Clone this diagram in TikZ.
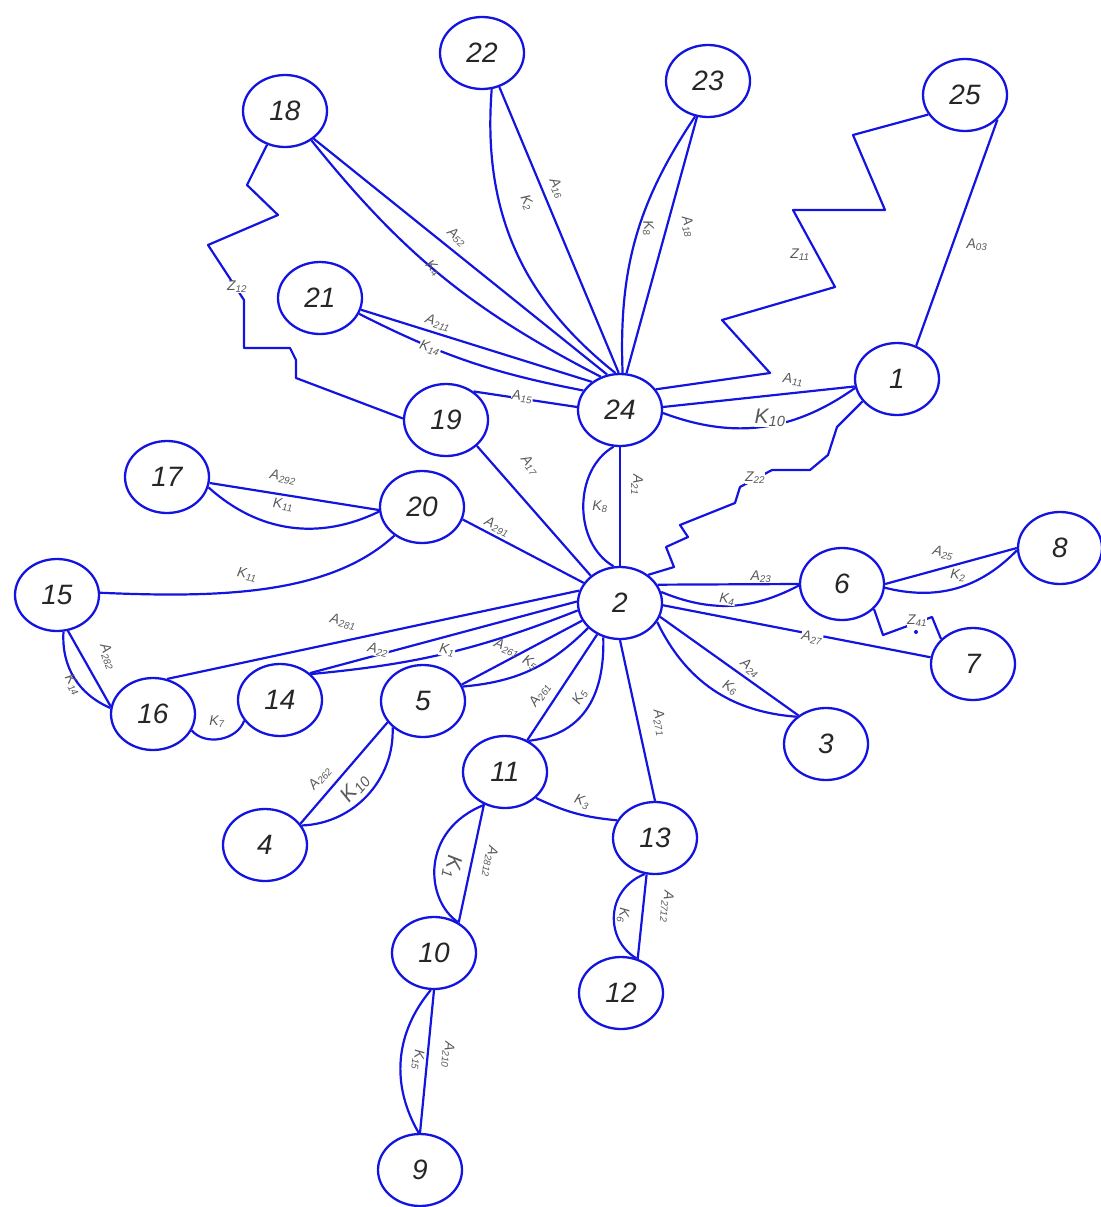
\documentclass[tikz,border=0pt]{standalone}
\usepackage{fontspec}
\setmainfont{Liberation Sans}
\usetikzlibrary{shapes.geometric}
\definecolor{bl}{RGB}{20,20,225}
\newcommand\mylab[2]{#1\textsubscript{#2}}
\begin{document}
\begin{tikzpicture}[x=1pt,y=-1pt,
  vert/.style={ellipse, draw=bl, fill=white, line width=2.3pt, minimum width=84pt, minimum height=72pt, inner sep=0pt, font=\fontsize{28}{28}\selectfont\itshape, text=black!85},
  edge/.style={draw=bl, line width=2.2pt, line join=round},
  lab/.style={font=\fontsize{14}{14}\selectfont\itshape, text=black!65, inner sep=0.5pt},
  onl/.style={lab, fill=white},
  bigk/.style={font=\fontsize{21}{21}\selectfont\itshape}]
\useasboundingbox (0,0) rectangle (1100,1207);
% vertices
\node[vert] (n1) at (897,379) {1};
\node[vert] (n2) at (620,603) {2};
\node[vert] (n3) at (826,744) {3};
\node[vert] (n4) at (265,845) {4};
\node[vert] (n5) at (423,701) {5};
\node[vert] (n6) at (842,584) {6};
\node[vert] (n7) at (973,664) {7};
\node[vert] (n8) at (1060,548) {8};
\node[vert] (n9) at (420,1170) {9};
\node[vert] (n10) at (434,953) {10};
\node[vert] (n11) at (505,772) {11};
\node[vert] (n12) at (621,993) {12};
\node[vert] (n13) at (655,838) {13};
\node[vert] (n14) at (280,700) {14};
\node[vert] (n15) at (57,595) {15};
\node[vert] (n16) at (153,714) {16};
\node[vert] (n17) at (167,477) {17};
\node[vert] (n18) at (285,111) {18};
\node[vert] (n19) at (446,420) {19};
\node[vert] (n20) at (422,507) {20};
\node[vert] (n21) at (320,298) {21};
\node[vert] (n22) at (482,53) {22};
\node[vert] (n23) at (708,81) {23};
\node[vert] (n24) at (620,410) {24};
\node[vert] (n25) at (965,95) {25};
% fan into 24
\draw[edge] (n22.-63) -- (n24.92);
\draw[edge] (n22.-75) to[bend right=28] (n24.97);
\draw[edge] (n23.-107) -- (n24.80);
\draw[edge] (n23.-110) to[bend right=18] (n24.86);
\draw[edge] (n18.-44) -- (n24.110);
\draw[edge] (n18.-48) to[bend right=12] (n24.120);
\draw[edge] (n21.-16) -- (n24.135);
\draw[edge] (n21.-22) to[bend right=8] (n24.152);
\draw[edge] (n19.46) -- (n24.176);
% 24 - 1 - 25
\draw[edge] (n24.4) -- (n1.190);
\draw[edge] (n24.-4) to[bend right=28] (n1.192);
\draw[edge] (n25.-37) -- (n1.60);
\draw[edge] (n24.30) -- (770,373) -- (722,320) -- (835,287) -- (793,210) -- (885,210) -- (853,135) -- (n25.208);
% 24 - 2
\draw[edge] (n24.-90) -- (n2.90);
\draw[edge] (n24.-100) to[bend right=60] (n2.100);
% zigzag 1 - 2
\draw[edge] (n1.213) -- (837,427) -- (828,455) -- (810,470) -- (772,470) -- (740,487) -- (735,503) -- (680,525) -- (688,537) -- (666,547) -- (674,567) -- (n2.45);
% zigzag 18 - 19
\draw[edge] (n18.242) -- (247,185) -- (278,215) -- (208,245) -- (244,300) -- (244,348) -- (290,348) -- (296,360) -- (296,378) -- (n19.178);
% left side
\draw[edge] (n19.-40) -- (n2.137);
\draw[edge] (n20.-17) -- (n2.151);
\draw[edge] (n17.-8) -- (n20.184);
\draw[edge] (n17.-14) to[bend right=34] (n20.186);
\draw[edge] (n15.3) .. controls (220,598) and (330,595) .. (n20.-134);
\draw[edge] (n16.68) -- (n2.163);
\draw[edge] (n15.-73) -- (n16.170);
\draw[edge] (n15.-80) to[bend right=35] (n16.172);
\draw[edge] (n16.-23) to[bend right=60] (n14.210);
\draw[edge] (n14.42) -- (n2.178);
\draw[edge] (n14.40) to[bend right=8] (n2.190);
\draw[edge] (n5.23) -- (n2.205);
\draw[edge] (n5.20) to[bend right=20] (n2.218);
\draw[edge] (n5.211) -- (n4.31);
\draw[edge] (n5.221) to[bend left=45] (n4.28);
% lower
\draw[edge] (n2.234) -- (n11.55);
\draw[edge] (n2.244) .. controls (605,700) and (580,735) .. (n11.53);
\draw[edge] (n2.-90) -- (n13.90);
\draw[edge] (n11.-40) to[bend right=10] (n13.155);
\draw[edge] (n11.237) -- (n10.51);
\draw[edge] (n11.238) .. controls (420,830) and (425,900) .. (n10.52);
\draw[edge] (n13.-103) -- (n12.64);
\draw[edge] (n13.-106) .. controls (605,890) and (605,940) .. (n12.66);
\draw[edge] (n10.-90) -- (n9.90);
\draw[edge] (n10.-95) to[bend right=35] (n9.92);
% right
\draw[edge] (n2.-19) -- (n3.134);
\draw[edge] (n2.-27) to[bend right=30] (n3.137);
\draw[edge] (n2.-3) -- (n7.171);
\draw[edge] (n2.26) -- (n6.180);
\draw[edge] (n2.15) to[bend right=25] (n6.182);
\draw[edge] (n6.0) -- (n8.180);
\draw[edge] (n6.-5) to[bend right=30] (n8.183);
\draw[edge] (n6.-38) -- (883,635) -- (932,617) -- (n7.142);
\fill[bl] (916,632) circle (2pt);
% labels
\node[lab,rotate=-66] (lA16) at (557,188) {\mylab{A}{16}};
\node[lab,rotate=-66] (lK22) at (527,203) {\mylab{K}{2}};
\node[lab,rotate=-75] (lA18) at (688,227) {\mylab{A}{18}};
\node[lab,rotate=-80] (lK23) at (648,228) {\mylab{K}{8}};
\node[lab,rotate=-40] (lA52) at (457,237) {\mylab{A}{52}};
\node[lab,rotate=-45] (lK18) at (433,268) {\mylab{K}{4}};
\node[lab,rotate=-18] (lA211) at (438,323) {\mylab{A}{211}};
\node[onl,rotate=-18] (lK21) at (430,348) {\mylab{K}{14}};
\node[onl,rotate=-5] (lA15) at (522,397) {\mylab{A}{15}};
\node[onl] (lZ12) at (237,287) {\mylab{Z}{12}};
\node[lab] (lZ11) at (800,255) {\mylab{Z}{11}};
\node[lab] (lA03) at (977,245) {\mylab{A}{03}};
\node[lab,rotate=-5] (lA11) at (793,380) {\mylab{A}{11}};
\node[onl,bigk] (lK10a) at (770,418) {\mylab{K}{10}};
\node[onl] (lZ22) at (755,478) {\mylab{Z}{22}};
\node[lab,rotate=-90] (lA21) at (637,485) {\mylab{A}{21}};
\node[lab] (lK8) at (600,507) {\mylab{K}{8}};
\node[lab,rotate=-52] (lA17) at (530,465) {\mylab{A}{17}};
\node[lab,rotate=-25] (lA291) at (497,527) {\mylab{A}{291}};
\node[lab,rotate=-10] (lA292) at (283,477) {\mylab{A}{292}};
\node[lab,rotate=-5] (lK17) at (283,505) {\mylab{K}{11}};
\node[lab,rotate=-10] (lK15a) at (247,575) {\mylab{K}{11}};
\node[lab,rotate=-12] (lA281) at (343,622) {\mylab{A}{281}};
\node[onl,rotate=-12] (lA22) at (378,650) {\mylab{A}{22}};
\node[onl,rotate=-10] (lK1) at (447,650) {\mylab{K}{1}};
\node[lab,rotate=-22] (lA261) at (507,648) {\mylab{A}{261}};
\node[lab,rotate=-30] (lK5a) at (530,663) {\mylab{K}{5}};
\node[lab,rotate=57] (lA261b) at (540,695) {\mylab{A}{261}};
\node[lab,rotate=60] (lK5b) at (580,697) {\mylab{K}{5}};
\node[lab,rotate=-78] (lA271) at (660,723) {\mylab{A}{271}};
\node[onl,rotate=-38] (lA24) at (750,668) {\mylab{A}{24}};
\node[onl,rotate=-30] (lK6a) at (730,688) {\mylab{K}{6}};
\node[onl,rotate=-10] (lA27) at (812,638) {\mylab{A}{27}};
\node[onl] (lA23) at (761,577) {\mylab{A}{23}};
\node[onl,rotate=-5] (lK4) at (727,599) {\mylab{K}{4}};
\node[lab,rotate=-12] (lA25) at (943,553) {\mylab{A}{25}};
\node[lab,rotate=-5] (lK2) at (958,575) {\mylab{K}{2}};
\node[onl] (lZ41) at (917,621) {\mylab{Z}{41}};
\node[lab,rotate=-20] (lK3) at (582,802) {\mylab{K}{3}};
\node[lab,rotate=-100] (lA2812) at (490,862) {\mylab{A}{2812}};
\node[lab,bigk,rotate=-100] (lK1b) at (452,867) {\mylab{K}{1}};
\node[lab,rotate=-95] (lA2712) at (667,907) {\mylab{A}{2712}};
\node[lab,rotate=-95] (lK6b) at (623,915) {\mylab{K}{6}};
\node[lab,rotate=-95] (lA210) at (448,1055) {\mylab{A}{210}};
\node[lab,rotate=-95] (lK15) at (418,1060) {\mylab{K}{15}};
\node[lab,rotate=50] (lA262) at (320,778) {\mylab{A}{262}};
\node[lab,bigk,rotate=50] (lK10b) at (355,788) {\mylab{K}{10}};
\node[lab,rotate=-70] (lA282) at (108,657) {\mylab{A}{282}};
\node[lab,rotate=-60] (lK14) at (73,685) {\mylab{K}{14}};
\node[lab] (lK7) at (217,722) {\mylab{K}{7}};
\end{tikzpicture}
\end{document}
